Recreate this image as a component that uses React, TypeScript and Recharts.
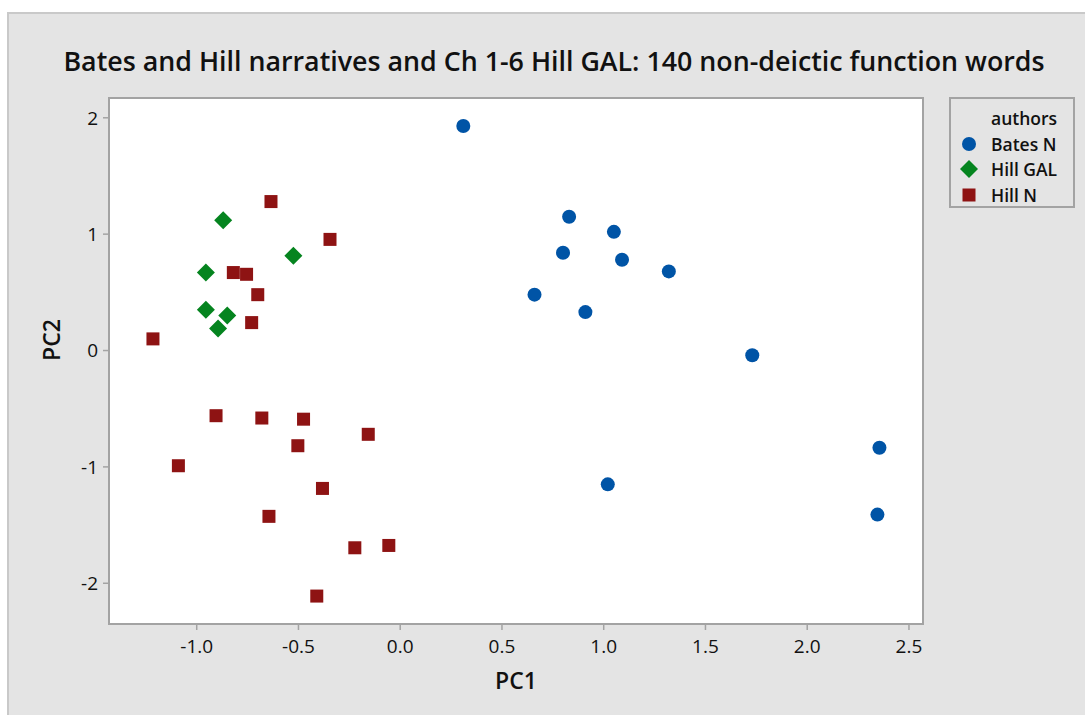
import React from "react"
import { ScatterChart, Scatter, XAxis, YAxis, CartesianGrid, ReferenceArea, Legend } from "recharts"

// PC scores
const batesN = [
  { pc1: 0.31, pc2: 1.93 },
  { pc1: 0.83, pc2: 1.15 },
  { pc1: 0.8, pc2: 0.84 },
  { pc1: 1.05, pc2: 1.02 },
  { pc1: 1.09, pc2: 0.78 },
  { pc1: 1.32, pc2: 0.68 },
  { pc1: 0.66, pc2: 0.48 },
  { pc1: 0.91, pc2: 0.33 },
  { pc1: 1.73, pc2: -0.04 },
  { pc1: 1.02, pc2: -1.15 },
  { pc1: 2.355, pc2: -0.835 },
  { pc1: 2.345, pc2: -1.41 },
]

const hillGAL = [
  { pc1: -0.87, pc2: 1.12 },
  { pc1: -0.525, pc2: 0.815 },
  { pc1: -0.955, pc2: 0.67 },
  { pc1: -0.955, pc2: 0.35 },
  { pc1: -0.85, pc2: 0.3 },
  { pc1: -0.895, pc2: 0.19 },
]

const hillN = [
  { pc1: -0.635, pc2: 1.28 },
  { pc1: -0.345, pc2: 0.955 },
  { pc1: -0.82, pc2: 0.67 },
  { pc1: -0.755, pc2: 0.655 },
  { pc1: -0.7, pc2: 0.48 },
  { pc1: -0.73, pc2: 0.24 },
  { pc1: -1.215, pc2: 0.1 },
  { pc1: -0.905, pc2: -0.56 },
  { pc1: -0.68, pc2: -0.58 },
  { pc1: -0.475, pc2: -0.59 },
  { pc1: -0.157, pc2: -0.72 },
  { pc1: -0.503, pc2: -0.818 },
  { pc1: -1.09, pc2: -0.99 },
  { pc1: -0.382, pc2: -1.185 },
  { pc1: -0.645, pc2: -1.425 },
  { pc1: -0.223, pc2: -1.695 },
  { pc1: -0.056, pc2: -1.675 },
  { pc1: -0.41, pc2: -2.11 },
]

const xTicks = [-1, -0.5, 0, 0.5, 1, 1.5, 2, 2.5]
const yTicks = [-2, -1, 0, 1, 2]
const xDomain: [number, number] = [-1.431, 2.569]
const yDomain: [number, number] = [-2.35, 2.17]

const BLUE = "#0054a6"
const GREEN = "#05841f"
const RED = "#8e1313"
const FRAME = "#a3a3a3"
const PANEL = "#e4e4e4"
const FONT = "'Open Sans', 'Noto Sans', sans-serif"

const Circle = (p: any) => <circle cx={p.cx} cy={p.cy} r={7} fill={BLUE} />
const Diamond = (p: any) => (
  <path d={`M${p.cx},${p.cy - 9}L${p.cx + 9},${p.cy}L${p.cx},${p.cy + 9}L${p.cx - 9},${p.cy}Z`} fill={GREEN} />
)
const Square = (p: any) => <rect x={p.cx - 6.5} y={p.cy - 6.5} width={13} height={13} fill={RED} />

const series = [
  { name: "Bates N", data: batesN, shape: Circle },
  { name: "Hill GAL", data: hillGAL, shape: Diamond },
  { name: "Hill N", data: hillN, shape: Square },
]

function LegendBox() {
  return (
    <div
      style={{
        width: 126,
        height: 111,
        border: `2px solid ${FRAME}`,
        background: PANEL,
        fontFamily: FONT,
        fontSize: 17.5,
        color: "#111",
        boxSizing: "border-box",
        paddingTop: 7,
      }}
    >
      <div style={{ paddingLeft: 40, fontWeight: 600, lineHeight: "25px" }}>authors</div>
      {series.map((s) => (
        <div key={s.name} style={{ display: "flex", alignItems: "center", height: 25.5, fontWeight: 600 }}>
          <svg width={40} height={22}>
            <s.shape cx={18} cy={11} />
          </svg>
          <span>{s.name}</span>
        </div>
      ))}
    </div>
  )
}

export default function App() {
  return (
    <div style={{ position: "absolute", left: 0, top: 0, width: 1085, height: 715, overflow: "hidden", background: "#fff" }}>
      <div
        style={{
          position: "absolute",
          left: 7,
          top: 12,
          width: 1100,
          height: 720,
          background: PANEL,
          borderLeft: "2px solid #c9c9c9",
          borderTop: "2px solid #c9c9c9",
        }}
      />
      <div
        style={{
          position: "absolute",
          left: 0,
          top: 43,
          width: 1108,
          textAlign: "center",
          fontFamily: FONT,
          fontWeight: 600,
          fontSize: 26.8,
          lineHeight: "36px",
          color: "#111",
          whiteSpace: "nowrap",
        }}
      >
        Bates and Hill narratives and Ch 1-6 Hill GAL: 140 non-deictic function words
      </div>
      <div style={{ position: "absolute", left: 0, top: 0 }}>
        <ScatterChart width={1085} height={715} margin={{ top: 98, right: 162, bottom: 0, left: 0 }}>
          <CartesianGrid fill="#fff" horizontal={false} vertical={false} />
          <XAxis
            type="number"
            dataKey="pc1"
            domain={xDomain}
            allowDataOverflow
            ticks={xTicks}
            tickFormatter={(v: number) => v.toFixed(1)}
            height={91}
            tickSize={6}
            tickMargin={10}
            axisLine={{ stroke: FRAME, strokeWidth: 2 }}
            tickLine={{ stroke: FRAME, strokeWidth: 1.5 }}
            tick={{ fill: "#111", fontSize: 19, fontFamily: FONT, fontWeight: 500 }}
            label={{ value: "PC1", position: "insideBottom", offset: 26, fill: "#111", fontSize: 23, fontFamily: FONT, fontWeight: 600 }}
          />
          <YAxis
            type="number"
            dataKey="pc2"
            domain={yDomain}
            allowDataOverflow
            ticks={yTicks}
            width={109}
            tickSize={6}
            tickMargin={5}
            axisLine={{ stroke: FRAME, strokeWidth: 2 }}
            tickLine={{ stroke: FRAME, strokeWidth: 1.5 }}
            tick={{ fill: "#111", fontSize: 19, fontFamily: FONT, fontWeight: 500 }}
            label={{ value: "PC2", angle: -90, position: "insideLeft", offset: 52, fill: "#111", fontSize: 23, fontFamily: FONT, fontWeight: 600 }}
          />
          <ReferenceArea
            x1={xDomain[0]}
            x2={xDomain[1]}
            y1={yDomain[0]}
            y2={yDomain[1]}
            fill="none"
            stroke={FRAME}
            strokeWidth={2}
          />
          {series.map((s) => (
            <Scatter key={s.name} name={s.name} data={s.data} shape={s.shape} isAnimationActive={false} />
          ))}
          <Legend
            layout="vertical"
            align="center"
            verticalAlign="middle"
            content={() => <LegendBox />}
            wrapperStyle={{ left: 949, top: 97, width: 126 }}
          />
        </ScatterChart>
      </div>
    </div>
  )
}
